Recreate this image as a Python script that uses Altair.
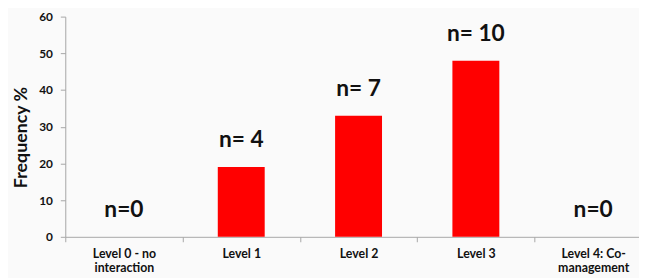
import altair as alt
import pandas as pd

categories = ["Level 0 - no\ninteraction", "Level 1", "Level 2", "Level 3", "Level 4: Co-\nmanagement"]
values = [0, 19, 33, 48, 0]
labels = ["n=0", "n= 4", "n= 7", "n= 10", "n=0"]

df = pd.DataFrame({"cat": categories, "val": values, "lab": labels})

FONT = "Lato"

x = alt.X("cat:N", sort=categories, title=None,
          scale=alt.Scale(range=[0, 594], paddingInner=0, paddingOuter=0),
          axis=alt.Axis(labelAngle=0, tickBand="extent", labelExpr="split(datum.label, '\\n')",
                        labelFont=FONT, labelFontWeight="bold", labelFontSize=12.5, labelColor="#111111",
                        labelLineHeight=14, labelPadding=6, tickSize=5, labelOverlap=False,
                        domainColor="#a6a6a6", tickColor="#a6a6a6", labelBaseline="top"))
y = alt.Y("val:Q", title="Frequency %",
          scale=alt.Scale(domain=[0, 60]),
          axis=alt.Axis(values=[0, 10, 20, 30, 40, 50, 60], grid=False, tickSize=5, labelOverlap=False,
                        labelFont=FONT, labelFontWeight="bold", labelFontSize=12, labelColor="#111111",
                        labelPadding=8, domainColor="#a6a6a6", tickColor="#a6a6a6",
                        titleFont=FONT, titleFontWeight="bold", titleFontSize=18, titleColor="#111111",
                        titleX=-44, titleY=122, titleBaseline="middle", titleAngle=-90))

bars = alt.Chart(df).mark_bar(color="#ff0000", width=alt.RelativeBandSize(0.4)).encode(x=x, y=y)
text = alt.Chart(df).mark_text(font=FONT, fontWeight="bold", fontSize=23, dy=-20,
                               baseline="alphabetic", color="#111111").encode(
    x=x, y=y, text="lab:N")

chart = alt.layer(bars, text).properties(
    width=581, height=223, background="#fafafa",
    autosize=alt.AutoSizeParams(type="none"),
    padding={"left": 58, "top": 7, "right": 0, "bottom": 40},
).configure_view(stroke=None)

chart.save("out.html", embed_options={"renderer": "svg", "actions": False})
